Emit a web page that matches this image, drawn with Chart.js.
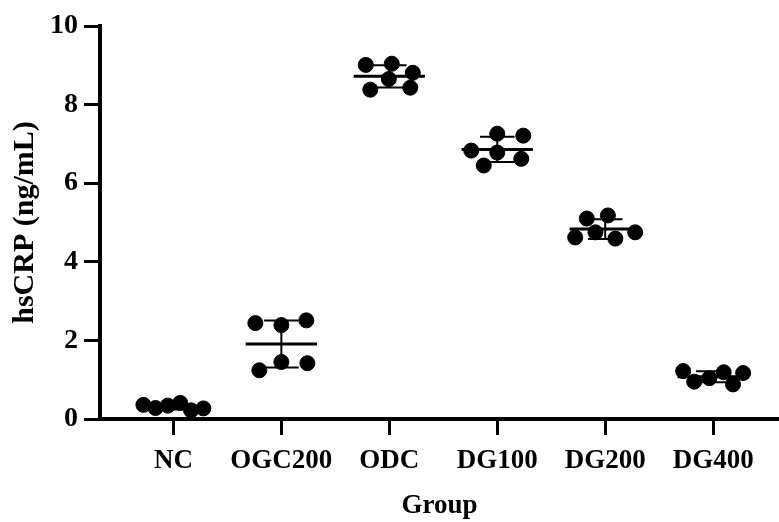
<!DOCTYPE html>
<html lang="en">
<head>
    <meta charset="UTF-8" />
    <title>hsCRP by group</title>
    <script src="https://cdn.jsdelivr.net/npm/chart.js"></script>
    <style>
        html, body { margin: 0; padding: 0; background: #ffffff; }
        canvas { display: block; }
    </style>
</head>
<body>

<canvas id="crpChart" width="779" height="522"></canvas>

<script>
    // Groups and individual hsCRP values (ng/mL)
    const groups = ['NC', 'OGC200', 'ODC', 'DG100', 'DG200', 'DG400'];
    const ncValues     = [0.34, 0.28, 0.41, 0.22, 0.36, 0.27];
    const ogc200Values = [2.39, 2.44, 2.51, 1.45, 1.24, 1.42];
    const odcValues    = [9.04, 9.01, 8.81, 8.65, 8.43, 8.38];
    const dg100Values  = [6.78, 6.83, 7.26, 7.21, 6.45, 6.62];
    const dg200Values  = [4.75, 4.62, 5.10, 5.18, 4.59, 4.75];
    const dg400Values  = [1.04, 0.95, 1.19, 1.22, 0.88, 1.17];
    const yTicks = [0, 2, 4, 6, 8, 10];

    const groupValues = [ncValues, ogc200Values, odcValues, dg100Values, dg200Values, dg400Values];

    const mean = arr => arr.reduce((a, b) => a + b, 0) / arr.length;
    const sd = arr => {
        const m = mean(arr);
        return Math.sqrt(arr.reduce((a, b) => a + (b - m) * (b - m), 0) / (arr.length - 1));
    };

    const serif = "'Liberation Serif', 'Times New Roman', serif";
    const dotRadius = 7.5;

    // mean line + SD whiskers, like a column scatter plot
    const errorBars = {
        id: 'errorBars',
        afterDatasetsDraw(chart) {
            const { ctx, scales: { x, y } } = chart;
            ctx.save();
            ctx.strokeStyle = '#000';
            ctx.lineCap = 'butt';
            groupValues.forEach((vals, i) => {
                const m = mean(vals), s = sd(vals), c = i + 1;
                const ym = y.getPixelForValue(m);
                const yHi = y.getPixelForValue(m + s);
                const yLo = y.getPixelForValue(m - s);
                const cx = x.getPixelForValue(c);

                ctx.lineWidth = 3;
                ctx.beginPath();
                ctx.moveTo(x.getPixelForValue(c - 0.33), ym);
                ctx.lineTo(x.getPixelForValue(c + 0.33), ym);
                ctx.stroke();

                ctx.lineWidth = 2;
                ctx.beginPath();
                ctx.moveTo(cx, yHi);
                ctx.lineTo(cx, yLo);
                ctx.moveTo(x.getPixelForValue(c - 0.16), yHi);
                ctx.lineTo(x.getPixelForValue(c + 0.16), yHi);
                ctx.moveTo(x.getPixelForValue(c - 0.16), yLo);
                ctx.lineTo(x.getPixelForValue(c + 0.16), yLo);
                ctx.stroke();
            });
            ctx.restore();
        }
    };

    const ctx = document.getElementById('crpChart').getContext('2d');
    const crpChart = new Chart(ctx, {
        type: 'scatter',
        data: {
            datasets: [{
                data: groupValues.flatMap((vals, i) => vals.map(v => ({ x: i + 1, y: v }))),
                backgroundColor: '#000',
                borderColor: '#000',
                pointRadius: dotRadius,
                pointHoverRadius: dotRadius,
                pointStyle: 'circle',
                clip: false
            }]
        },
        options: {
            responsive: false,
            animation: false,
            layout: {
                autoPadding: false,
                padding: { top: 26, right: 0, left: 0, bottom: 0 }
            },
            plugins: {
                legend: { display: false },
                tooltip: { enabled: false }
            },
            scales: {
                x: {
                    type: 'linear',
                    min: 0.32,
                    max: 6.61,
                    afterBuildTicks: scale => {
                        scale.ticks = groups.map((g, i) => ({ value: i + 1 }));
                    },
                    afterFit: scale => {
                        scale.height = 103;
                        scale.paddingLeft = 0;
                        scale.paddingRight = 0;
                    },
                    ticks: {
                        callback: (v, i) => groups[i],
                        color: '#000',
                        font: { family: serif, size: 27, weight: 'bold' },
                        padding: 10,
                        autoSkip: false,
                        maxRotation: 0
                    },
                    grid: {
                        drawOnChartArea: false,
                        drawTicks: true,
                        tickLength: 16,
                        tickWidth: 3,
                        tickColor: '#000'
                    },
                    border: { display: true, color: '#000', width: 4 },
                    title: {
                        display: true,
                        text: 'Group',
                        color: '#000',
                        font: { family: serif, size: 27, weight: 'bold' },
                        padding: { top: 0, bottom: 0 }
                    }
                },
                y: {
                    min: 0,
                    max: 10,
                    afterBuildTicks: scale => {
                        scale.ticks = yTicks.map(v => ({ value: v }));
                    },
                    afterFit: scale => {
                        scale.width = 100;
                        scale.paddingTop = 0;
                        scale.paddingBottom = 0;
                    },
                    ticks: {
                        color: '#000',
                        font: { family: serif, size: 28, weight: 'bold' },
                        padding: 6
                    },
                    grid: {
                        drawOnChartArea: false,
                        drawTicks: true,
                        tickLength: 16,
                        tickWidth: 3,
                        tickColor: '#000'
                    },
                    border: { display: true, color: '#000', width: 4 },
                    title: {
                        display: true,
                        text: 'hsCRP (ng/mL)',
                        color: '#000',
                        font: { family: serif, size: 30, weight: 'bold' },
                        padding: { top: 7, bottom: 0 }
                    }
                }
            }
        },
        plugins: [errorBars]
    });

    // spread overlapping dots sideways (simple beeswarm in pixel space),
    // then centre each group and keep it within a fixed half-width
    function spreadPoints(chart) {
        const xs = chart.scales.x, ys = chart.scales.y;
        const unit = xs.getPixelForValue(2) - xs.getPixelForValue(1);
        const ax = 26, ay = 15, maxHalf = 30;
        const pts = [];
        groupValues.forEach((vals, gi) => {
            const placed = [];
            vals.forEach(v => {
                const py = ys.getPixelForValue(v);
                let off = 0;
                for (let k = 0; k < 600; k++) {
                    const cand = k === 0 ? 0 : (k % 2 ? -1 : 1) * Math.ceil(k / 2) * 0.5;
                    const clash = placed.some(p => {
                        const dx = (p.dx - cand) / ax, dy = (p.py - py) / ay;
                        return dx * dx + dy * dy < 1;
                    });
                    if (!clash) { off = cand; break; }
                }
                placed.push({ dx: off, py: py });
            });
            const lo = Math.min(...placed.map(p => p.dx));
            const hi = Math.max(...placed.map(p => p.dx));
            const mid = (lo + hi) / 2;
            const half = (hi - lo) / 2;
            const k = half > maxHalf ? maxHalf / half : 1;
            placed.forEach((p, j) => {
                pts.push({ x: gi + 1 + (p.dx - mid) * k / unit, y: vals[j] });
            });
        });
        chart.data.datasets[0].data = pts;
        chart.update('none');
    }
    spreadPoints(crpChart);
</script>

</body>
</html>
